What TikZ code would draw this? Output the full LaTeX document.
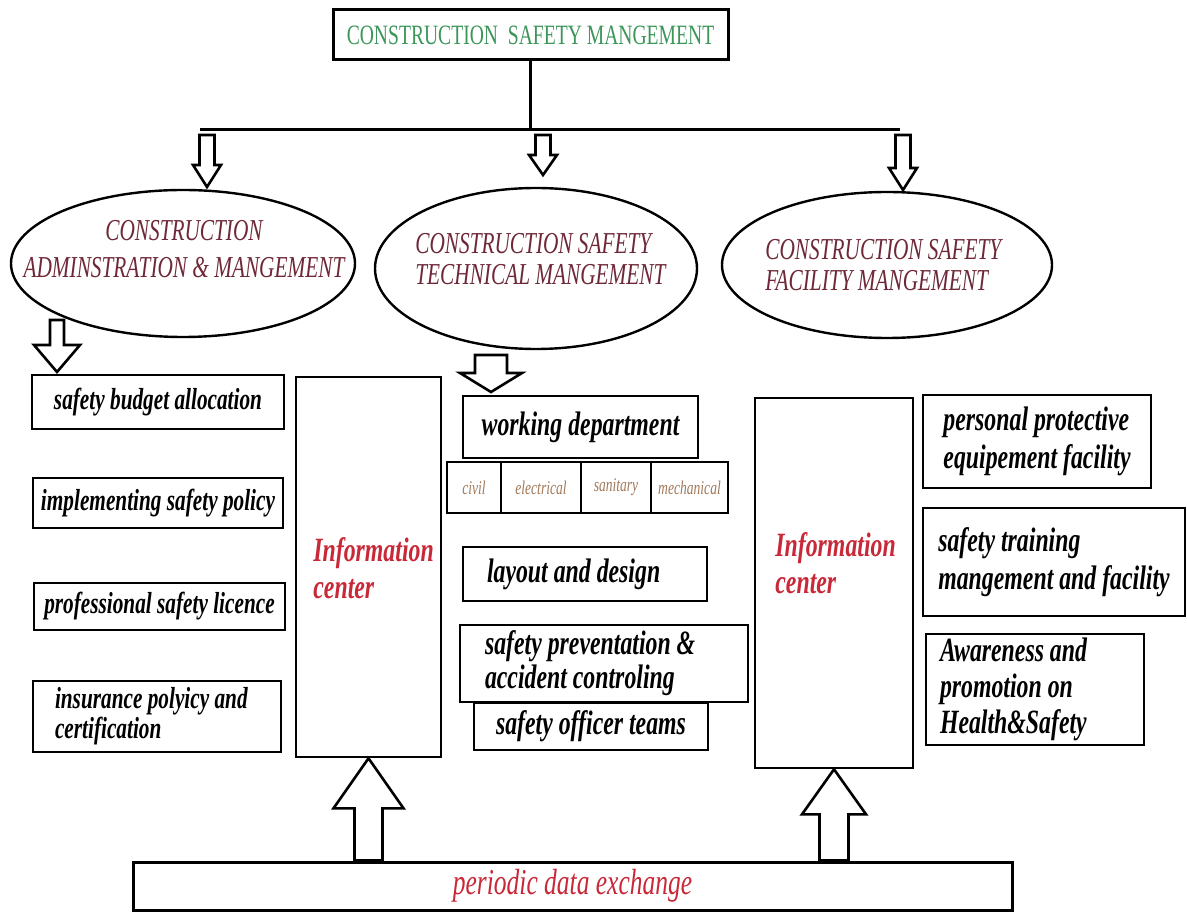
\documentclass[tikz,border=0pt]{standalone}
\usepackage{fontspec}
\setmainfont{Liberation Serif}[FakeStretch=0.7]
\usetikzlibrary{positioning,shapes.geometric,calc}
\definecolor{titlegreen}{RGB}{60,150,90}
\definecolor{mgmtred}{RGB}{110,40,55}
\definecolor{infored}{RGB}{200,40,55}
\definecolor{deptbrown}{RGB}{160,120,90}
% hollow block arrow: tail, tip, shaft half width, head half width, head length
\newcommand\blockarrow[5]{%
  \draw[hollow] let \p1=(#1), \p2=(#2), \p3=($(#2)!#5!(#1)$) in
    (\x1-#3,\y1) -- (\x1-#3,\y3) -- (\x1-#4,\y3) -- (\x1,\y2)
    -- (\x1+#4,\y3) -- (\x1+#3,\y3) -- (\x1+#3,\y1) -- cycle;}
\begin{document}
\begin{tikzpicture}[x=0.5pt,y=-0.5pt,line join=miter,
    box/.style={draw,line width=1.3pt,align=flush left,inner xsep=2pt,inner ysep=1pt,
      font=\fontsize{17}{19}\selectfont\bfseries\itshape},
    leftbox/.style={box,font=\fontsize{15.2}{15}\selectfont\bfseries\itshape},
    cell/.style={draw,line width=1.2pt,outer sep=0pt,minimum height=25.5pt,inner sep=0pt,
      text=deptbrown,font=\fontsize{9.7}{10}\selectfont\itshape},
    mgmt/.style={draw,ellipse,line width=1.2pt,inner sep=0pt},
    mgmttext/.style={inner sep=0pt,text=mgmtred,font=\fontsize{15.2}{15.5}\selectfont\itshape},
    infobox/.style={draw,line width=1.3pt},
    infotext/.style={inner sep=0pt,align=flush left,text=infored,
      font=\fontsize{17}{18.5}\selectfont\bfseries\itshape},
    hollow/.style={draw,fill=white,line width=1.3pt}]
  \useasboundingbox (0,0) rectangle (1187,913);

  % top and the three branches
  \node[draw,line width=1.5pt,minimum width=197.5pt,minimum height=25pt,text=titlegreen,
    font=\fontsize{14}{14}\selectfont] (top) at (530.5,35) {CONSTRUCTION\ \ SAFETY MANGEMENT};
  \coordinate (barL) at (200,130);
  \coordinate (barR) at (900,130);
  \draw[line width=1.5pt] (top.south) -- (top.south |- barL);
  \draw[line width=1.5pt] (barL) -- (barR);

  \node[mgmt,minimum width=172pt,minimum height=73.5pt] (adm) at (183,263.5) {};
  \node[mgmttext,align=center] (admtext) at (184,249) {CONSTRUCTION\\[3pt]ADMINSTRATION \& MANGEMENT};
  \node[mgmt,minimum width=161pt,minimum height=80.5pt] (tech) at (536,268.5) {};
  \node[mgmttext,align=flush left,anchor=west] (techtext) at (415,259.5) {CONSTRUCTION SAFETY\\TECHNICAL MANGEMENT};
  \node[mgmt,minimum width=165pt,minimum height=73pt] (fac) at (887,265) {};
  \node[mgmttext,align=flush left,anchor=west] (factext) at (765,265.5) {CONSTRUCTION SAFETY\\FACILITY MANGEMENT};

  \coordinate (tail1) at (207,135); \coordinate (tip1) at (207,187);
  \coordinate (tail2) at (543,135); \coordinate (tip2) at (543,175);
  \coordinate (tail3) at (903,135); \coordinate (tip3) at (903,190);
  \blockarrow{tail1}{tip1}{3.75pt}{7pt}{11pt}
  \blockarrow{tail2}{tip2}{3.75pt}{7pt}{10pt}
  \blockarrow{tail3}{tip3}{3.75pt}{7pt}{11pt}

  % administration column
  \node[leftbox,minimum width=126pt,minimum height=27pt] (budget) at (158,402) {safety budget allocation};
  \node[leftbox,minimum width=125pt,minimum height=25pt] (policy) at (158,503) {implementing safety policy};
  \node[leftbox,minimum width=125.5pt,minimum height=23.5pt] (licence) at (159.5,606.5) {professional safety licence};
  \node[leftbox,text width=102pt,inner xsep=11pt,minimum height=35.5pt] (insurance) at (157,716.5)
    {insurance polyicy and\\certification};
  \coordinate (admtail) at (57,320); \coordinate (admtip) at (57,372);
  \blockarrow{admtail}{admtip}{3.5pt}{11.5pt}{13.5pt}

  \node[infobox,minimum width=72.5pt,minimum height=190pt] (infoL) at (368.5,567) {};
  \node[infotext,anchor=west] (infoLtext) at (313,568) {Information\\center};

  % technical column
  \coordinate (techtail) at (491,355); \coordinate (techtip) at (491,392);
  \blockarrow{techtail}{techtip}{8pt}{15.5pt}{9.5pt}
  \node[box,minimum width=117.5pt,minimum height=31pt] (work) at (580.5,427) {working department};
  \node[cell,minimum width=27pt,anchor=west] (civil) at (447,487.5) {civil};
  \node[cell,minimum width=40pt,right=0pt of civil] (electrical) {electrical};
  \node[cell,minimum width=35pt,right=0pt of electrical] (sanitary) {sanitary};
  \node[cell,minimum width=38.5pt,right=0pt of sanitary] (mechanical) {mechanical};
  \node[box,text width=98pt,inner xsep=12pt,minimum height=27pt] (layout) at (585,574) {layout and design};
  \node[box,text width=119pt,inner xsep=12.5pt,minimum height=38.5pt,
    font=\fontsize{17}{17}\selectfont\bfseries\itshape] (prevention) at (604,663.5)
    {safety preventation \&\\accident controling};
  \node[box,minimum width=117pt,minimum height=23.5pt] (officer) at (591,726.5) {safety officer teams};

  % facility column
  \node[infobox,minimum width=79pt,minimum height=185pt] (infoR) at (834,583) {};
  \node[infotext,anchor=west] (infoRtext) at (775,563.5) {Information\\center};
  \node[box,minimum width=114pt,minimum height=46.5pt] (ppe) at (1037,441.5)
    {personal protective\\equipement facility};
  \node[box,minimum width=131pt,minimum height=54pt] (training) at (1054,562)
    {safety training\\mangement and facility};
  \node[box,text width=95pt,inner xsep=7pt,minimum height=55.5pt,
    font=\fontsize{17}{18}\selectfont\bfseries\itshape] (awareness) at (1035,689.5)
    {Awareness and\\promotion on\\Health\&Safety};

  % data exchange
  \node[draw,line width=1.5pt,minimum width=439.5pt,minimum height=24pt,text=infored,
    font=\fontsize{18.2}{18}\selectfont\itshape] (exchange) at (572.5,886) {periodic data exchange};
  \blockarrow{infoL.south |- exchange.north}{infoL.south}{7pt}{17.5pt}{25pt}
  \blockarrow{infoR.south |- exchange.north}{infoR.south}{7.25pt}{16pt}{22.5pt}
\end{tikzpicture}
\end{document}
